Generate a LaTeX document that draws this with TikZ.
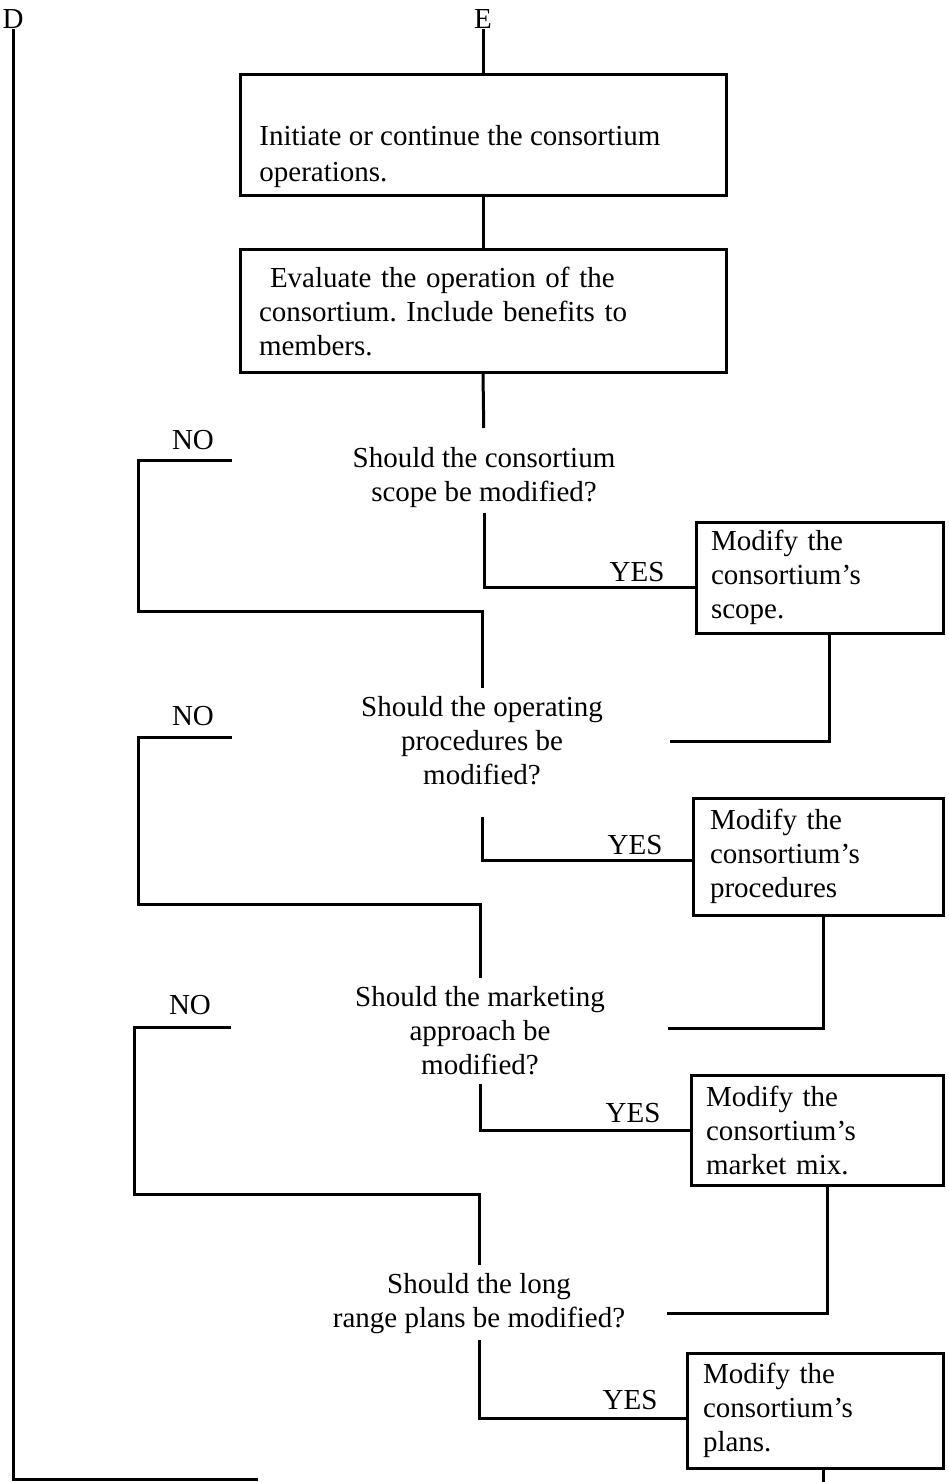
\documentclass[tikz,border=0pt]{standalone}
\usepackage{fontspec}
\setmainfont{Liberation Serif}
\frenchspacing
\begin{document}
\begin{tikzpicture}[x=0.5pt,y=-0.5pt,
  every node/.style={font=\fontsize{14.5}{17}\selectfont, inner sep=0pt},
  wire/.style={line width=1.5pt},
  box/.style={draw, line width=1.5pt, align=left, inner ysep=0pt},
  question/.style={align=center, anchor=north},
  tag/.style={}]
\useasboundingbox (0,0) rectangle (948,1482);

% connector labels
\node[tag] (D) at (13,19) {D};
\node[tag] (E) at (483,19) {E};

% process boxes
\node[box, minimum width=243pt, minimum height=60.5pt] (b1) at (483,135.5) {};
\node[align=left, anchor=north west, font=\fontsize{14.5}{18}\selectfont] (t1) at (259,124.5)
  {Initiate or continue the consortium\\operations.};
\node[box, text width=224pt, inner xsep=9.5pt, minimum height=61pt] (b2) at (483,311)
  {\hspace*{5.5pt}Evaluate the operation of the\\consortium. Include benefits to\\members.};
\node[box, text width=108.5pt, inner xsep=7.5pt, minimum height=55.5pt] (b3) at (819.5,577.5)
  {Modify the\\consortium's\\scope.};
\node[box, text width=108pt, inner xsep=8.5pt, minimum height=58.5pt] (b4) at (818,856.5)
  {Modify the\\consortium's\\procedures};
\node[box, text width=111pt, inner xsep=7.5pt, minimum height=55pt] (b5) at (817,1130)
  {Modify the\\consortium's\\market mix.};
\node[box, text width=112pt, inner xsep=8pt, minimum height=57.5pt] (b6) at (815,1410.5)
  {Modify the\\consortium's\\plans.};

% decision questions
\node[question] (q1) at (484,447) {Should the consortium\\scope be modified?};
\node[question] (q2) at (482,695.5) {Should the operating\\procedures be\\modified?};
\node[question] (q3) at (480,985.5) {Should the marketing\\approach be\\modified?};
\node[question] (q4) at (479,1272.5) {Should the long\\range plans be modified?};

% branch labels
\node[tag] (no1l) at (193,440) {NO};
\node[tag] (no2l) at (193,716) {NO};
\node[tag] (no3l) at (190,1005) {NO};
\node[tag] (yes1) at (637,572) {YES};
\node[tag] (yes2) at (635,845) {YES};
\node[tag] (yes3) at (633,1113) {YES};
\node[tag] (yes4) at (630,1400) {YES};

% free ends and corners
\coordinate (no1) at (232,460);
\coordinate (k1) at (138,611);
\coordinate (no2) at (232,737);
\coordinate (k2) at (138,904);
\coordinate (no3) at (231,1027);
\coordinate (k3) at (134,1194);
\coordinate (r1) at (670,741);
\coordinate (r2) at (668,1028);
\coordinate (r3) at (667,1313);
\coordinate (out) at (823,1482);
\coordinate (dEnd) at (258,1479);

% main flow
\draw[wire] (E.south) -- (b1.north);
\draw[wire] (b1.south) -- (b2.north);
\draw[wire, shorten >=9.5pt] (b2.south) -- (q1.north);

% NO branches
\draw[wire, shorten >=3.75pt] (no1) -| (k1) -| (q2.north);
\draw[wire, shorten >=3.75pt] (no2) -| (k2) -| (q3.north);
\draw[wire, shorten >=3.75pt] (no3) -| (k3) -| (q4.north);

% YES branches
\draw[wire, shorten <=2.5pt] (q1.south) |- ([yshift=-4.75pt]b3.west);
\draw[wire, shorten <=16pt] (q2.south) |- ([yshift=-1.75pt]b4.west);
\draw[wire, shorten <=4.75pt] (q3.south) |- (b5.west);
\draw[wire, shorten <=3.25pt] (q4.south) |- ([yshift=-3.75pt]b6.west);

% returns from the modification boxes
\draw[wire] ([xshift=4.75pt]b3.south) |- (r1);
\draw[wire] ([xshift=2.5pt]b4.south) |- (r2);
\draw[wire] ([xshift=5pt]b5.south) |- (r3);
\draw[wire] ([xshift=4pt]b6.south) -- (out);

% off-page connector D
\draw[wire] (D.south) |- (dEnd);
\end{tikzpicture}
\end{document}
